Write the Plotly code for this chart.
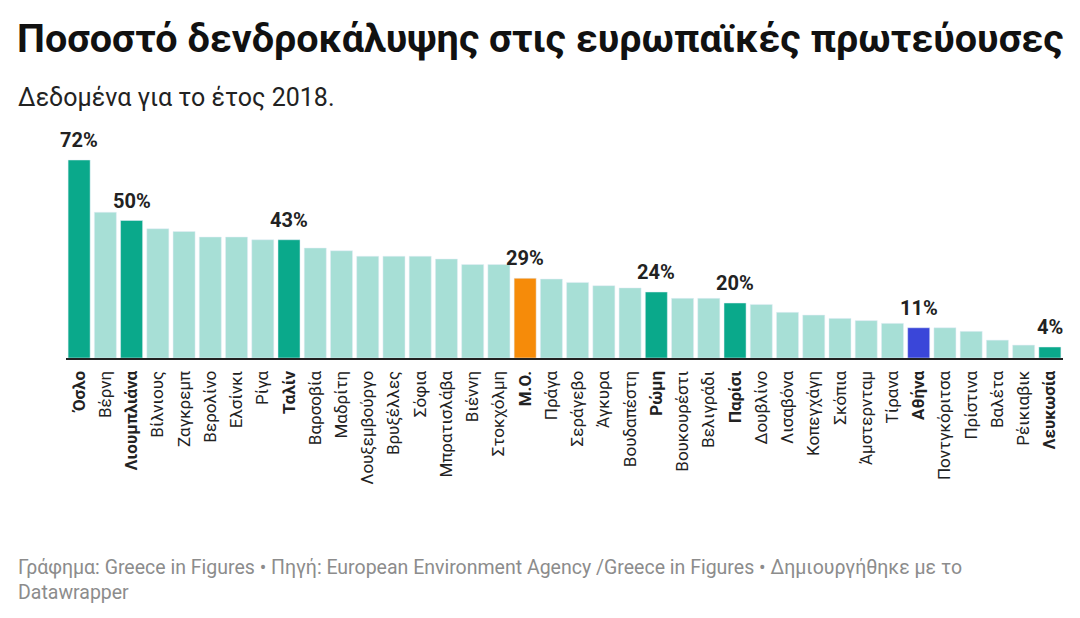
import plotly.graph_objects as go

cities = ["Όσλο", "Βέρνη", "Λιουμπλιάνα", "Βίλνιους", "Ζαγκρεμπ", "Βερολίνο", "Ελσίνκι",
          "Ρίγα", "Ταλίν", "Βαρσοβία", "Μαδρίτη", "Λουξεμβούργο", "Βρυξέλλες", "Σόφια",
          "Μπρατισλάβα", "Βιέννη", "Στοκχόλμη", "Μ.Ο.", "Πράγα", "Σεράγεβο", "Άγκυρα",
          "Βουδαπέστη", "Ρώμη", "Βουκουρέστι", "Βελιγράδι", "Παρίσι", "Δουβλίνο", "Λισαβόνα",
          "Κοπεγχάγη", "Σκόπια", "Άμστερνταμ", "Τίρανα", "Αθήνα", "Ποντγκόριτσα", "Πρίστινα",
          "Βαλέτα", "Ρέικιαβικ", "Λευκωσία"]
cover = [72, 53, 50, 47, 46, 44, 44, 43, 43, 40, 39, 37, 37, 37, 36, 34, 34, 29, 28.7,
         27.5, 26.3, 25.5, 24, 21.7, 21.7, 20, 19.5, 16.6, 15.6, 14.4, 13.6, 12.6, 11, 11,
         9.7, 6.5, 4.7, 4]
highlight = ["Όσλο", "Λιουμπλιάνα", "Ταλίν", "Ρώμη", "Παρίσι", "Λευκωσία"]
average = "Μ.Ο."
greece = "Αθήνα"

colors = []
for c in cities:
    if c == average:
        colors.append("#f68b09")
    elif c == greece:
        colors.append("#3a46d9")
    elif c in highlight:
        colors.append("#0aa98b")
    else:
        colors.append("#a7dfd6")

labelled = highlight + [average, greece]
ticks = ["<b>%s</b>" % c if c in labelled else c for c in cities]
xs = list(range(len(cities)))

# the page body adds an 8px offset, so margins are shifted by 8px
fig = go.Figure()
fig.add_trace(go.Bar(x=xs, y=cover, marker_color=colors, hoverinfo="skip"))

for i, (c, v) in enumerate(zip(cities, cover)):
    if c in labelled:
        fig.add_annotation(x=i, y=v, text="<b>%d%%</b>" % round(v), showarrow=False,
                           yanchor="bottom", yshift=6,
                           font=dict(size=20, color="#222222", family="Roboto"))

fig.update_layout(
    width=1080, height=618,
    margin=dict(l=58, r=25, t=122, b=268),
    paper_bgcolor="white", plot_bgcolor="white",
    showlegend=False, bargap=0.16,
    font=dict(family="Roboto", color="#222222"),
    title=dict(text="<b>Ποσοστό δενδροκάλυψης στις ευρωπαϊκές πρωτεύουσες</b>",
               xref="container", x=9/1080, xanchor="left",
               yref="container", y=1-30/618, yanchor="middle",
               font=dict(size=39.5, color="#111111", family="Roboto")),
)
fig.update_xaxes(range=[-0.5, len(cities)-0.5], tickmode="array",
                 tickvals=xs, ticktext=ticks, tickangle=-90,
                 ticks="", showline=True, linecolor="#222222", linewidth=2,
                 showgrid=False, zeroline=False, ticklabelstandoff=4,
                 tickfont=dict(size=17, color="#222222", family="Roboto"))
fig.update_yaxes(range=[0, 228/2.75], visible=False)

fig.add_annotation(text="Δεδομένα για το έτος 2018.", xref="paper", yref="paper",
                   x=(16-66)/997, y=(358-97)/228, xanchor="left", yanchor="middle",
                   showarrow=False, font=dict(size=25, color="#222222", family="Roboto"))
fig.add_annotation(text="Γράφημα: Greece in Figures • Πηγή: European Environment Agency /Greece in Figures • Δημιουργήθηκε με το<br>Datawrapper",
                   xref="paper", yref="paper", x=(16-66)/997, y=(358-554)/228,
                   xanchor="left", yanchor="top", align="left", showarrow=False,
                   font=dict(size=19.5, color="#8c8c8c", family="Roboto"))

fig.write_html("out.html")
